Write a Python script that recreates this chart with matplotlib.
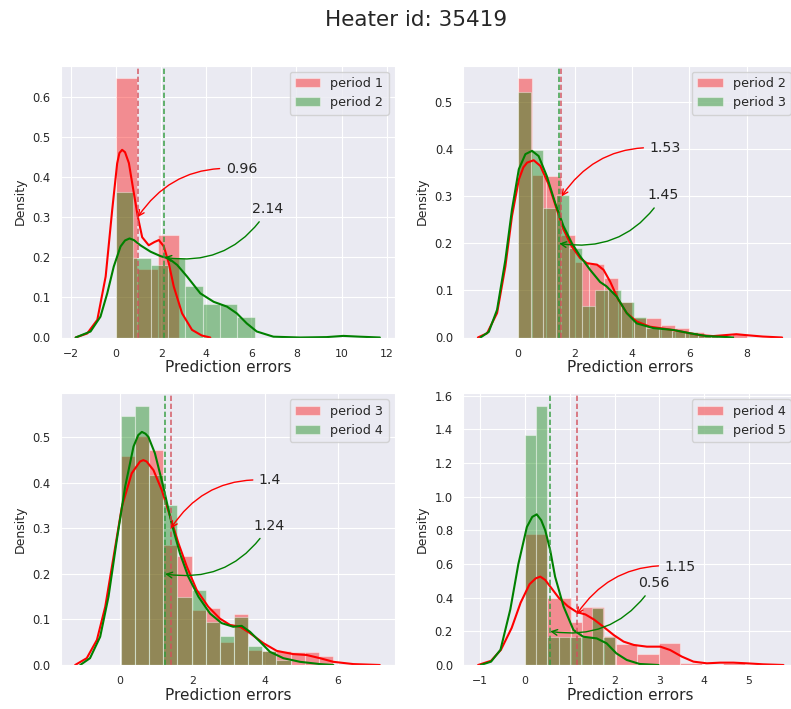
import numpy as np
import matplotlib
matplotlib.use('Agg')
import matplotlib.pyplot as plt
import seaborn as sns

sns.set_style('darkgrid')
plt.rcParams['font.family'] = ['DejaVu Sans']

title = "Heater id: 35419"
xlabel = "Prediction errors"
ylabel = "Density"

# ---------------- panel 1: period 1 vs period 2 ----------------
p1_labels = ["period 1", "period 2"]
p1_means = [0.96, 2.14]
p1_red_edges = [0.0, 0.93, 1.85, 2.78]
p1_red_heights = [0.646, 0.171, 0.256]
p1_green_edges = [0.0, 0.77, 1.53, 2.30, 3.07, 3.84, 4.61, 5.38, 6.15]
p1_green_heights = [0.364, 0.199, 0.182, 0.199, 0.128, 0.083, 0.083, 0.050]
p1_red_kde_x = [-1.79, -1.28, -0.83, -0.46, -0.17, 0.05, 0.15, 0.27, 0.40, 0.57, 0.79, 0.97, 1.16,
                1.45, 1.70, 1.90, 2.12, 2.34, 2.56, 2.93, 3.37, 3.80, 4.18]
p1_red_kde_y = [0.0, 0.01, 0.044, 0.152, 0.318, 0.434, 0.46, 0.468, 0.462, 0.435, 0.36, 0.30, 0.25,
                0.23, 0.238, 0.243, 0.227, 0.185, 0.127, 0.06, 0.019, 0.005, 0.0]
p1_green_kde_x = [-1.79, -1.13, -0.69, -0.39, -0.10, 0.20, 0.40, 0.60, 0.79, 1.08, 1.53, 1.97, 2.34,
                  2.71, 3.15, 3.74, 4.33, 4.92, 5.36, 5.80, 6.24, 6.98, 8.16, 9.34, 10.08, 10.82, 11.70]
p1_green_kde_y = [0.0, 0.015, 0.052, 0.11, 0.177, 0.227, 0.242, 0.247, 0.243, 0.23, 0.214, 0.203,
                  0.197, 0.181, 0.152, 0.11, 0.089, 0.077, 0.06, 0.035, 0.015, 0.002, 0.0, 0.001,
                  0.004, 0.002, 0.0]
p1_xlim = [-2.44, 12.37]
p1_xticks = [-2, 0, 2, 4, 6, 8, 10, 12]
p1_yticks = [0.0, 0.1, 0.2, 0.3, 0.4, 0.5, 0.6]

# ---------------- panel 2: period 2 vs period 3 ----------------
p2_labels = ["period 2", "period 3"]
p2_means = [1.53, 1.45]
p2_red_edges = [0.0, 0.5, 1.0, 1.5, 2.0, 2.5, 3.0, 3.5, 4.0, 4.5, 5.0, 5.5, 6.0, 6.5, 7.0, 7.5, 8.0]
p2_red_heights = [0.551, 0.346, 0.344, 0.218, 0.161, 0.157, 0.126, 0.076, 0.041, 0.041, 0.027,
                  0.020, 0.012, 0.004, 0.0, 0.008]
p2_green_edges = [0.0, 0.45, 0.9, 1.35, 1.8, 2.25, 2.7, 3.15, 3.6, 4.05, 4.5, 4.95, 5.4, 5.85,
                  6.3, 6.75, 7.2]
p2_green_heights = [0.523, 0.399, 0.275, 0.303, 0.19, 0.066, 0.10, 0.10, 0.076, 0.044, 0.02,
                    0.018, 0.014, 0.012, 0.005, 0.003]
p2_red_kde_x = [-1.39, -1.07, -0.72, -0.43, -0.20, 0.04, 0.20, 0.33, 0.56, 0.79, 1.08, 1.37, 1.60,
                1.89, 2.18, 2.42, 2.77, 3.00, 3.23, 3.52, 3.81, 4.16, 4.62, 5.20, 5.78, 6.36, 6.83,
                7.24, 7.64, 7.99, 8.57, 9.24]
p2_red_kde_y = [0.0, 0.009, 0.052, 0.151, 0.258, 0.336, 0.362, 0.372, 0.377, 0.365, 0.326, 0.272,
                0.23, 0.194, 0.169, 0.158, 0.155, 0.144, 0.119, 0.08, 0.052, 0.034, 0.023, 0.018,
                0.012, 0.005, 0.003, 0.005, 0.007, 0.005, 0.002, 0.0]
p2_green_kde_x = [-1.30, -1.01, -0.72, -0.43, -0.20, 0.04, 0.27, 0.50, 0.73, 1.02, 1.31, 1.60,
                  1.89, 2.18, 2.53, 2.88, 3.10, 3.46, 3.81, 4.16, 4.74, 5.44, 6.02, 6.60, 7.29, 7.53]
p2_green_kde_y = [0.0, 0.012, 0.059, 0.165, 0.272, 0.358, 0.39, 0.397, 0.386, 0.343, 0.286, 0.237,
                  0.201, 0.173, 0.144, 0.118, 0.109, 0.087, 0.052, 0.03, 0.02, 0.016, 0.009, 0.003,
                  0.001, 0.0]
p2_xlim = [-1.90, 9.77]
p2_xticks = [0, 2, 4, 6, 8]
p2_yticks = [0.0, 0.1, 0.2, 0.3, 0.4, 0.5]

# ---------------- panel 3: period 3 vs period 4 ----------------
p3_labels = ["period 3", "period 4"]
p3_means = [1.4, 1.24]
p3_red_edges = [0.02, 0.41, 0.80, 1.19, 1.58, 1.97, 2.36, 2.75, 3.14, 3.53, 3.92, 4.31, 4.70,
                5.09, 5.48, 5.87]
p3_red_heights = [0.46, 0.502, 0.473, 0.264, 0.239, 0.12, 0.125, 0.05, 0.113, 0.032, 0.03, 0.03,
                  0.028, 0.028, 0.02]
p3_green_edges = [0.02, 0.41, 0.80, 1.19, 1.58, 1.97, 2.36, 2.75, 3.14, 3.53, 3.92, 4.31, 4.70]
p3_green_heights = [0.547, 0.569, 0.418, 0.352, 0.15, 0.165, 0.095, 0.064, 0.106, 0.042, 0.03, 0.01]
p3_red_kde_x = [-1.24, -0.92, -0.64, -0.41, -0.18, 0.05, 0.32, 0.55, 0.64, 0.73, 0.92, 1.15, 1.38,
                1.61, 1.84, 2.11, 2.43, 2.75, 3.03, 3.31, 3.58, 3.95, 4.32, 4.77, 5.14, 5.51, 5.88,
                6.43, 7.16]
p3_red_kde_y = [0.0, 0.015, 0.055, 0.128, 0.238, 0.348, 0.421, 0.447, 0.45, 0.447, 0.428, 0.384,
                0.326, 0.267, 0.216, 0.165, 0.128, 0.102, 0.088, 0.084, 0.07, 0.048, 0.031, 0.024,
                0.022, 0.015, 0.007, 0.002, 0.0]
p3_green_kde_x = [-1.10, -0.83, -0.55, -0.32, -0.09, 0.14, 0.37, 0.50, 0.60, 0.70, 0.78, 0.96,
                  1.19, 1.42, 1.65, 1.88, 2.16, 2.48, 2.80, 3.12, 3.35, 3.58, 3.86, 4.13, 4.50, 4.96,
                  5.51, 5.88]
p3_green_kde_y = [0.0, 0.015, 0.062, 0.15, 0.275, 0.392, 0.48, 0.505, 0.512, 0.508, 0.501, 0.465,
                  0.392, 0.311, 0.245, 0.194, 0.15, 0.113, 0.092, 0.084, 0.086, 0.073, 0.051, 0.029,
                  0.015, 0.007, 0.002, 0.0]
p3_xlim = [-1.63, 7.58]
p3_xticks = [0, 2, 4, 6]
p3_yticks = [0.0, 0.1, 0.2, 0.3, 0.4, 0.5]

# ---------------- panel 4: period 4 vs period 5 ----------------
p4_labels = ["period 4", "period 5"]
p4_means = [1.15, 0.56]
p4_red_edges = [0.0, 0.50, 1.02, 1.28, 1.76, 2.02, 2.50, 2.99, 3.47, 3.95, 4.43, 4.91]
p4_red_heights = [0.778, 0.396, 0.253, 0.347, 0.172, 0.123, 0.065, 0.129, 0.014, 0.0, 0.014]
p4_green_edges = [0.0, 0.25, 0.5, 0.75, 1.0, 1.25, 1.5, 1.75, 2.0]
p4_green_heights = [1.367, 1.539, 0.168, 0.168, 0.168, 0.168, 0.337, 0.168]
p4_red_kde_x = [-1.05, -0.76, -0.54, -0.30, -0.10, 0.10, 0.24, 0.34, 0.45, 0.55, 0.75, 0.95, 1.15,
                1.35, 1.54, 1.76, 1.98, 2.20, 2.43, 2.72, 3.02, 3.24, 3.50, 3.76, 4.06, 4.36, 4.65,
                4.95, 5.32, 5.77]
p4_red_kde_y = [0.0, 0.025, 0.09, 0.22, 0.37, 0.48, 0.515, 0.525, 0.505, 0.47, 0.40, 0.35, 0.315,
                0.30, 0.27, 0.225, 0.178, 0.139, 0.119, 0.109, 0.109, 0.089, 0.05, 0.02, 0.01,
                0.014, 0.014, 0.01, 0.004, 0.0]
p4_green_kde_x = [-0.99, -0.76, -0.55, -0.33, -0.15, 0.04, 0.16, 0.26, 0.36, 0.45, 0.56, 0.67,
                  0.86, 1.08, 1.30, 1.60, 1.82, 2.04, 2.27, 2.56, 2.98]
p4_green_kde_y = [0.0, 0.02, 0.09, 0.33, 0.6, 0.82, 0.88, 0.895, 0.86, 0.8, 0.683, 0.525, 0.347,
                  0.208, 0.168, 0.158, 0.129, 0.069, 0.03, 0.006, 0.0]
p4_xlim = [-1.38, 6.08]
p4_xticks = [-1, 0, 1, 2, 3, 4, 5]
p4_yticks = [0.0, 0.2, 0.4, 0.6, 0.8, 1.0, 1.2, 1.4, 1.6]

# arrow target heights for the mean annotations
arrow_y = [0.3, 0.2]

panels = [
    dict(labels=p1_labels, means=p1_means, re=p1_red_edges, rh=p1_red_heights,
         ge=p1_green_edges, gh=p1_green_heights, rkx=p1_red_kde_x, rky=p1_red_kde_y,
         gkx=p1_green_kde_x, gky=p1_green_kde_y, xlim=p1_xlim, xt=p1_xticks, yt=p1_yticks),
    dict(labels=p2_labels, means=p2_means, re=p2_red_edges, rh=p2_red_heights,
         ge=p2_green_edges, gh=p2_green_heights, rkx=p2_red_kde_x, rky=p2_red_kde_y,
         gkx=p2_green_kde_x, gky=p2_green_kde_y, xlim=p2_xlim, xt=p2_xticks, yt=p2_yticks),
    dict(labels=p3_labels, means=p3_means, re=p3_red_edges, rh=p3_red_heights,
         ge=p3_green_edges, gh=p3_green_heights, rkx=p3_red_kde_x, rky=p3_red_kde_y,
         gkx=p3_green_kde_x, gky=p3_green_kde_y, xlim=p3_xlim, xt=p3_xticks, yt=p3_yticks),
    dict(labels=p4_labels, means=p4_means, re=p4_red_edges, rh=p4_red_heights,
         ge=p4_green_edges, gh=p4_green_heights, rkx=p4_red_kde_x, rky=p4_red_kde_y,
         gkx=p4_green_kde_x, gky=p4_green_kde_y, xlim=p4_xlim, xt=p4_xticks, yt=p4_yticks),
]

W, H = 791, 709
fig = plt.figure(figsize=(W / 100, H / 100), dpi=100)

ax_w = 334 / W
ax_h = 272 / H
positions = [
    [61 / W, 1 - 337.5 / H, ax_w, ax_h],
    [463.3 / W, 1 - 337.5 / H, ax_w, ax_h],
    [61 / W, 1 - 665 / H, ax_w, ax_h],
    [463.3 / W, 1 - 665 / H, ax_w, ax_h],
]

colors = ['red', 'green']
dash_colors = ['#d2505a', '#2e9a3a']
rads = [0.3, -0.33]

for pos, p in zip(positions, panels):
    ax = fig.add_axes(pos)
    edges = [np.array(p['re']), np.array(p['ge'])]
    heights = [p['rh'], p['gh']]
    for k in range(2):
        e = edges[k]
        ax.bar(e[:-1], heights[k], width=np.diff(e), align='edge', color=colors[k],
               alpha=0.4, edgecolor='white', linewidth=0.8, label=p['labels'][k])
    ax.plot(p['rkx'], p['rky'], color='red', lw=1.5)
    ax.plot(p['gkx'], p['gky'], color='green', lw=1.5)
    for k in range(2):
        m = p['means'][k]
        ax.axvline(m, color=dash_colors[k], ls=(0, (3.2, 1.6)), lw=1.2, alpha=0.85)
        ax.annotate(f"{m}", xy=(m, arrow_y[k]), xytext=(88, 48), textcoords='offset pixels',
                    ha='left', va='center', fontsize=10.2, color='.15',
                    arrowprops=dict(arrowstyle='->', color=colors[k], lw=1.0,
                                    shrinkB=0,
                                    connectionstyle=f'arc3,rad={rads[k]}'))
    ymax = max(max(p['rh']), max(p['gh'])) * 1.05
    ax.set_ylim(0, ymax)
    ax.set_xlim(*p['xlim'])
    ax.set_xticks(p['xt'])
    ax.set_yticks(p['yt'])
    ax.tick_params(axis='x', labelsize=7.8, pad=8, length=0)
    ax.tick_params(axis='y', labelsize=8.3, pad=7.5, length=0)
    ax.set_xlabel(xlabel, fontsize=11, labelpad=1)
    ax.set_ylabel(ylabel, fontsize=9, labelpad=4)
    ax.legend(loc='upper right', fontsize=9.2)

fig.suptitle(title, x=0.526, y=0.972, va='center', fontsize=15.5, color='.15')

fig.savefig('out.png', dpi=100)
